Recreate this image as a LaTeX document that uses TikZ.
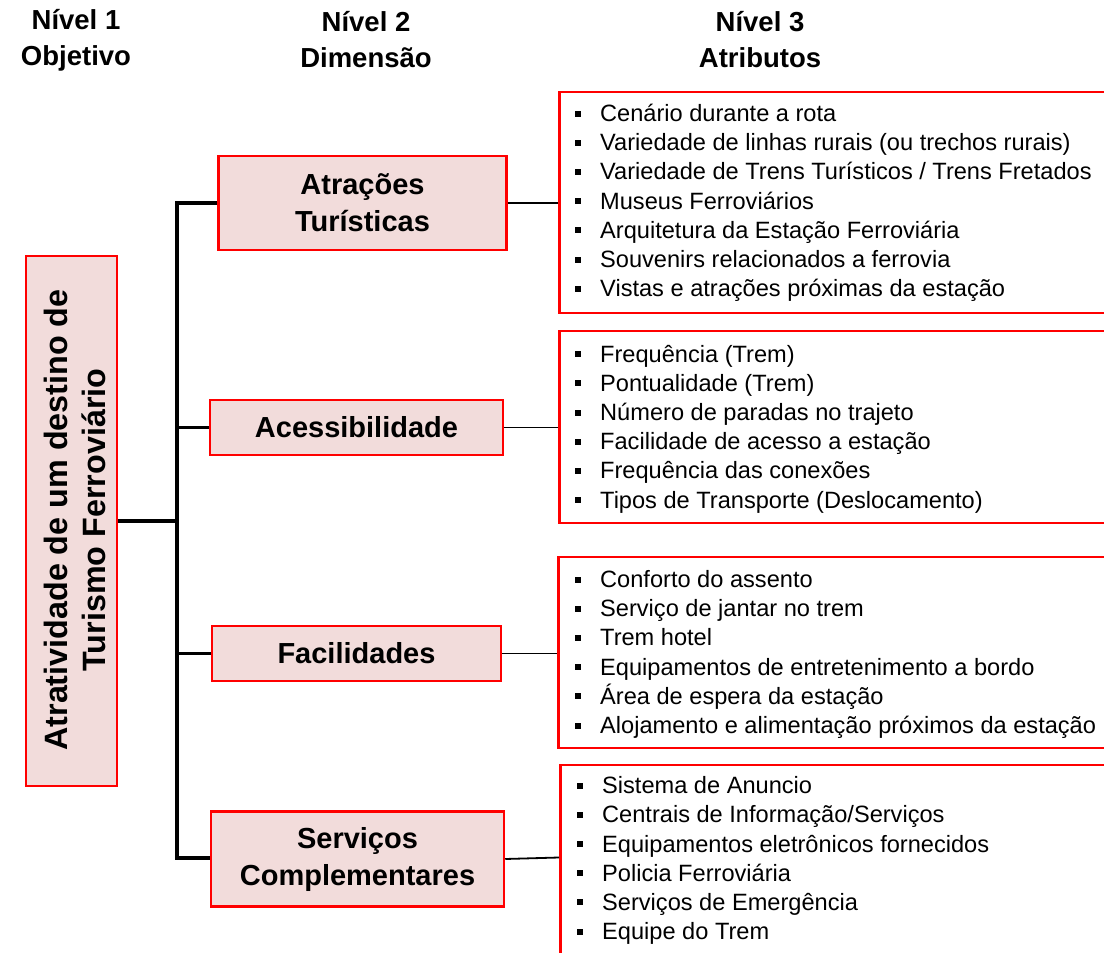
\documentclass[tikz,border=0pt]{standalone}
\usepackage{fontspec}
\setmainfont{Liberation Sans}
\definecolor{boxfill}{HTML}{F2DCDB}
\definecolor{boxred}{HTML}{FF0000}
\newcommand{\bul}{\makebox[25pt][l]{\rule[5pt]{6pt}{6pt}}}
\tikzset{
  hdr/.style={font=\fontsize{27.5}{36}\selectfont\bfseries, align=center, inner sep=0},
  lvlbox/.style={draw=boxred, line width=2.5pt, fill=boxfill, inner sep=0,
     font=\fontsize{29}{37}\selectfont\bfseries, align=center},
  attbox/.style={draw=boxred, line width=2.5pt, fill=white, inner sep=0},
  attlist/.style={anchor=west, inner sep=0, align=left, font=\fontsize{23.6}{29.2}\selectfont},
  trunk/.style={line width=3.5pt},
  thin/.style={line width=1.8pt}
}
\begin{document}
\begin{tikzpicture}[x=1pt,y=-1pt]
\clip (0,0) rectangle (1104,953);
\fill[white] (0,0) rectangle (1104,953);
% headers
\node[hdr] (h1) at (76,40) {Nível 1\\Objetivo};
\node[hdr] (h2) at (366,40) {Nível 2\\Dimensão};
\node[hdr] (h3) at (760,40) {Nível 3\\Atributos};
% level 1
\node[lvlbox, rotate=90, minimum width=530, minimum height=91] (L) at (71.5,521) {};
\node[rotate=90, inner sep=0, align=center, font=\fontsize{32.3}{38}\selectfont\bfseries]
  (Lt) at (74.5,520) {Atratividade de um destino de\\Turismo Ferroviário};
% level 2
\node[lvlbox, minimum width=288, minimum height=94] (a1) at (362.5,203) {Atrações\\Turísticas};
\node[lvlbox, minimum width=293, minimum height=55] (a2) at (356.5,427.5) {Acessibilidade};
\node[lvlbox, minimum width=289, minimum height=55] (a3) at (356.5,653.5) {Facilidades};
\node[lvlbox, minimum width=293, minimum height=95] (a4) at (357.5,859) {Serviços\\Complementares};
% level 3 boxes
\node[attbox, anchor=west, minimum width=600, minimum height=221] (b1) at (558,202.5) {};
\node[attbox, anchor=west, minimum width=600, minimum height=192] (b2) at (558,427) {};
\node[attbox, anchor=west, minimum width=600, minimum height=191] (b3) at (557,652.5) {};
\node[attbox, anchor=west, minimum width=600, minimum height=215] (b4) at (559,872.5) {};
% level 3 lists
\node[attlist] (l1) at (575,203) {\bul Cenário durante a rota\\
\bul Variedade de linhas rurais (ou trechos rurais)\\
\bul Variedade de Trens Turísticos / Trens Fretados\\
\bul Museus Ferroviários\\
\bul Arquitetura da Estação Ferroviária\\
\bul Souvenirs relacionados a ferrovia\\
\bul Vistas e atrações próximas da estação};
\node[attlist] (l2) at (575,429) {\bul Frequência (Trem)\\
\bul Pontualidade (Trem)\\
\bul Número de paradas no trajeto\\
\bul Facilidade de acesso a estação\\
\bul Frequência das conexões\\
\bul Tipos de Transporte (Deslocamento)};
\node[attlist] (l3) at (575,654.5) {\bul Conforto do assento\\
\bul Serviço de jantar no trem\\
\bul Trem hotel\\
\bul Equipamentos de entretenimento a bordo\\
\bul Área de espera da estação\\
\bul Alojamento e alimentação próximos da estação};
\node[attlist] (l4) at (577,860.5) {\bul Sistema de Anuncio\\
\bul Centrais de Informação/Serviços\\
\bul Equipamentos eletrônicos fornecidos\\
\bul Policia Ferroviária\\
\bul Serviços de Emergência\\
\bul Equipe do Trem};
% connectors
\coordinate (t1) at (177,203);
\coordinate (t4) at (177,858);
\draw[trunk] (t1 -| a1.west) -- (t1) -- (t4) -- (t4 -| a4.west);
\draw[trunk] (L.south) -- (L.south -| t1);
\draw[trunk] (a2.west -| t1) -- (a2.west);
\draw[trunk] (a3.west -| t1) -- (a3.west);
\draw[thin] (a1.east) -- (a1.east -| b1.west);
\draw[thin] (a2.east) -- (a2.east -| b2.west);
\draw[thin] (a3.east) -- (a3.east -| b3.west);
\draw[thin] (a4.east) -- ([yshift=1.5pt]a4.east -| b4.west);
\end{tikzpicture}
\end{document}
